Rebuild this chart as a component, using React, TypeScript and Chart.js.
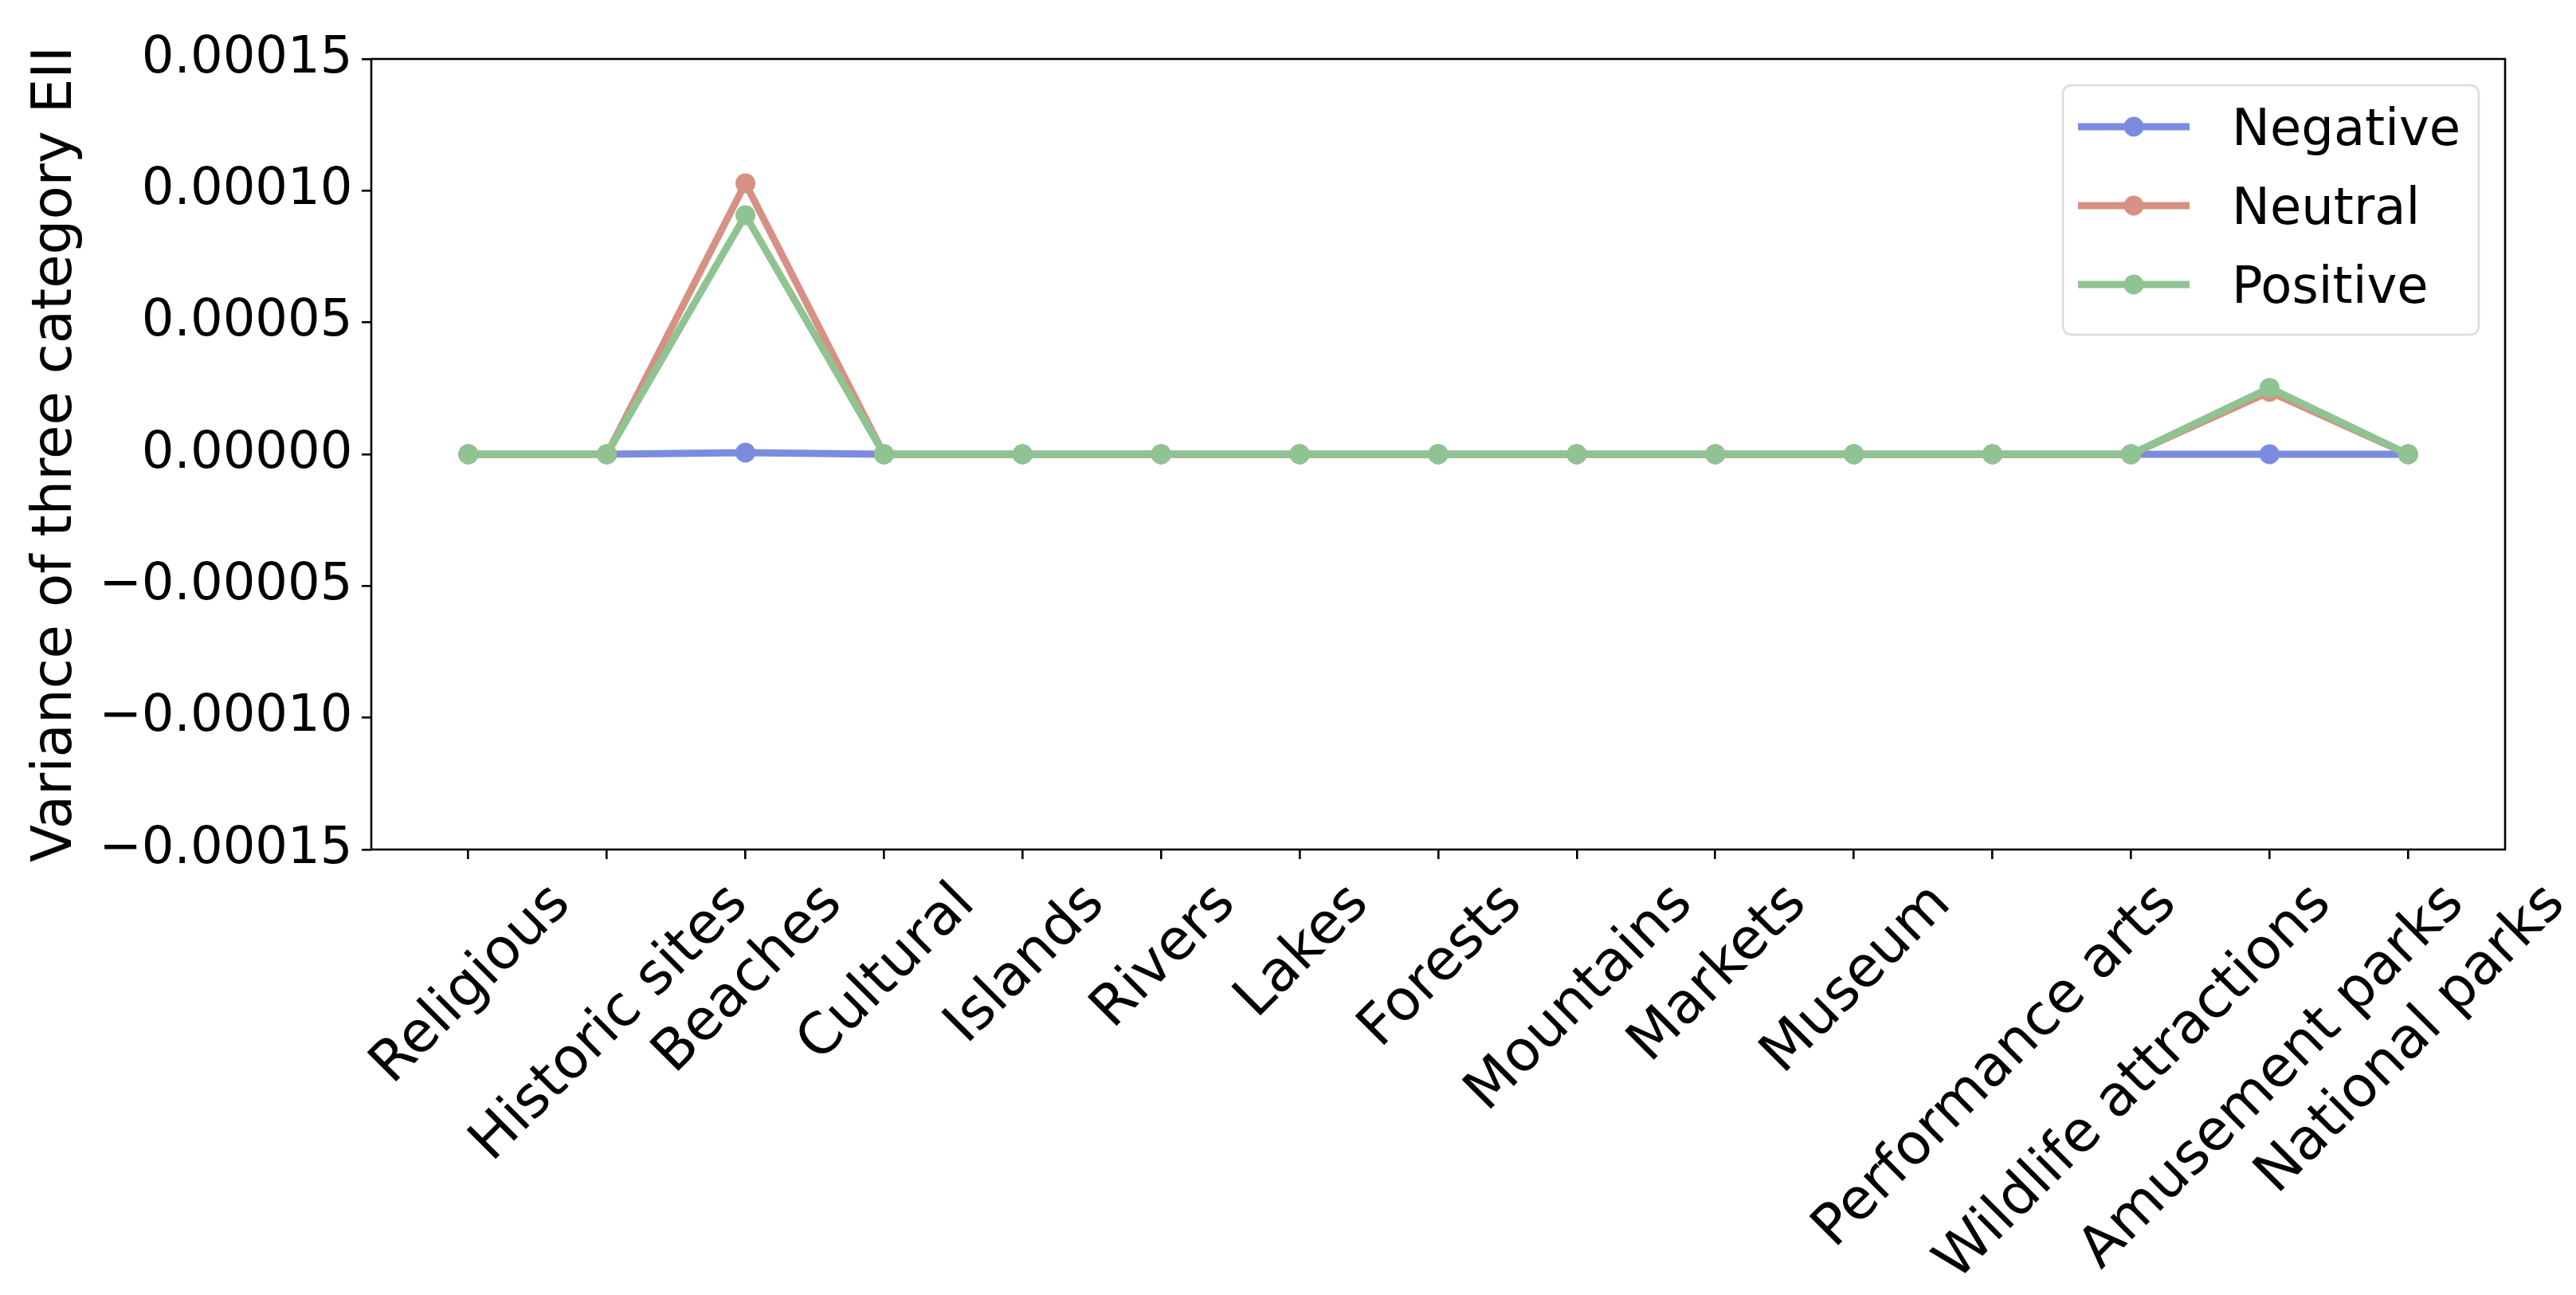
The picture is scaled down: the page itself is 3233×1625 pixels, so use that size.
import React, { useEffect, useRef } from "react";
import { Chart, registerables } from "chart.js";

Chart.register(...registerables);

const categories = [
  "Religious",
  "Historic sites",
  "Beaches",
  "Cultural",
  "Islands",
  "Rivers",
  "Lakes",
  "Forests",
  "Mountains",
  "Markets",
  "Museum",
  "Performance arts",
  "Wildlife attractions",
  "Amusement parks",
  "National parks",
];

const negativeValues = [0, 0, 0.0000006, 0, 0, 0, 0, 0, 0, 0, 0, 0, 0, 0, 0];
const neutralValues = [0, 0, 0.0001028, 0, 0, 0, 0, 0, 0, 0, 0, 0, 0, 0.0000237, 0];
const positiveValues = [0, 0, 0.0000907, 0, 0, 0, 0, 0, 0, 0, 0, 0, 0, 0.0000252, 0];

const seriesNames = ["Negative", "Neutral", "Positive"];
const seriesColors = ["rgb(123,140,224)", "rgb(214,145,132)", "rgb(143,196,146)"];

const yTicks = [-0.00015, -0.0001, -0.00005, 0, 0.00005, 0.0001, 0.00015];
const yTitle = "Variance of three category EII";

const W = 3233;
const H = 1625;
const FS = 64;
const XFS = 71;
const TFS = 69;
const FONT = '"DejaVu Sans", "Liberation Sans", sans-serif';
const TICK_LEN = 12;
const TICK_PAD = 11.5;
const AX_LW = 2.6;

const formatY = (v: number) => {
  const a = Math.abs(v).toFixed(5);
  return (v < -1e-12 ? "\u2212" : "") + a;
};

const framePlugin = {
  id: "frame",
  afterDatasetsDraw(chart: any) {
    const { ctx, chartArea: a } = chart;
    ctx.save();
    ctx.strokeStyle = "#000";
    ctx.lineWidth = AX_LW;
    ctx.strokeRect(a.left, a.top, a.right - a.left, a.bottom - a.top);
    ctx.restore();
  },
};

const xLabelPlugin = {
  id: "xLabels",
  afterDraw(chart: any) {
    const { ctx, chartArea: a } = chart;
    const xs = chart.scales.x;
    ctx.save();
    ctx.font = `${XFS}px ${FONT}`;
    ctx.fillStyle = "#000";
    const top = a.bottom + TICK_LEN + TICK_PAD;
    categories.forEach((c, i) => {
      const x = xs.getPixelForValue(i);
      const w = ctx.measureText(c).width;
      const h = XFS * 1.164;
      const cy = top + ((w + h) * Math.SQRT1_2) / 2;
      ctx.save();
      ctx.translate(x, cy);
      ctx.rotate(-Math.PI / 4);
      ctx.textAlign = "center";
      ctx.textBaseline = "alphabetic";
      ctx.fillText(c, 0, 0.346 * XFS);
      ctx.restore();
    });
    ctx.restore();
  },
};

const legendPlugin = {
  id: "customLegend",
  afterDraw(chart: any) {
    const { ctx, chartArea: a } = chart;
    const bw = 522;
    const bh = 313;
    const right = a.right - 33;
    const top = a.top + 33;
    const left = right - bw;
    const r = 12;
    ctx.save();
    ctx.beginPath();
    ctx.moveTo(left + r, top);
    ctx.lineTo(left + bw - r, top);
    ctx.quadraticCurveTo(left + bw, top, left + bw, top + r);
    ctx.lineTo(left + bw, top + bh - r);
    ctx.quadraticCurveTo(left + bw, top + bh, left + bw - r, top + bh);
    ctx.lineTo(left + r, top + bh);
    ctx.quadraticCurveTo(left, top + bh, left, top + bh - r);
    ctx.lineTo(left, top + r);
    ctx.quadraticCurveTo(left, top, left + r, top);
    ctx.closePath();
    ctx.fillStyle = "rgba(255,255,255,0.8)";
    ctx.fill();
    ctx.strokeStyle = "#dcdcdc";
    ctx.lineWidth = 2.5;
    ctx.stroke();

    ctx.font = `${FS}px ${FONT}`;
    ctx.textAlign = "left";
    ctx.textBaseline = "alphabetic";
    chart.data.datasets
      .slice()
      .sort((p: any, q: any) => p.legendIndex - q.legendIndex)
      .forEach((ds: any, i: number) => {
        const y = top + 52 + i * 99;
        const x0 = left + 19;
        const x1 = left + 159;
        ctx.strokeStyle = ds.borderColor;
        ctx.lineWidth = 9;
        ctx.lineCap = "butt";
        ctx.beginPath();
        ctx.moveTo(x0, y);
        ctx.lineTo(x1, y);
        ctx.stroke();
        ctx.fillStyle = ds.borderColor;
        ctx.beginPath();
        ctx.arc((x0 + x1) / 2, y, 12.5, 0, Math.PI * 2);
        ctx.fill();
        ctx.fillStyle = "#000";
        ctx.fillText(ds.label, left + 212, y + 0.3645 * FS);
      });
    ctx.restore();
  },
};

export default function App() {
  const ref = useRef<HTMLCanvasElement | null>(null);

  useEffect(() => {
    if (!ref.current) return;
    const valuesList = [negativeValues, neutralValues, positiveValues];
    const datasets = valuesList.map((vals, k) => ({
      label: seriesNames[k],
      legendIndex: k,
      order: valuesList.length - 1 - k,
      data: vals.map((v, i) => ({ x: i, y: v })),
      borderColor: seriesColors[k],
      backgroundColor: seriesColors[k],
      pointBackgroundColor: seriesColors[k],
      borderWidth: 9,
      pointRadius: 12.5,
      pointHoverRadius: 12.5,
      pointBorderWidth: 0,
      tension: 0,
      fill: false,
    }));

    const chart = new Chart(ref.current, {
      type: "line",
      data: { datasets } as any,
      options: {
        animation: false,
        responsive: false,
        devicePixelRatio: 1,
        layout: { padding: { left: 0, right: 89, top: 74, bottom: 0 } },
        plugins: {
          legend: { display: false },
          tooltip: { enabled: false },
        },
        scales: {
          x: {
            type: "linear",
            min: -0.7,
            max: categories.length - 1 + 0.7,
            afterBuildTicks: (s: any) => {
              s.ticks = categories.map((_, i) => ({ value: i }));
            },
            afterFit: (s: any) => {
              s.height = H - 1066;
            },
            ticks: { display: false },
            grid: {
              display: true,
              drawOnChartArea: false,
              drawTicks: true,
              tickLength: TICK_LEN,
              tickColor: "#000",
              tickWidth: AX_LW,
              color: "#000",
              lineWidth: AX_LW,
            },
            border: { display: false },
          },
          y: {
            type: "linear",
            min: yTicks[0],
            max: yTicks[yTicks.length - 1],
            afterBuildTicks: (s: any) => {
              s.ticks = yTicks.map((v) => ({ value: v }));
            },
            afterFit: (s: any) => {
              s.width = 466;
            },
            ticks: {
              color: "#000",
              padding: TICK_PAD,
              font: { family: FONT, size: FS },
              callback: (v: any) => formatY(Number(v)),
            },
            grid: {
              display: true,
              drawOnChartArea: false,
              drawTicks: true,
              tickLength: TICK_LEN,
              tickColor: "#000",
              tickWidth: AX_LW,
              color: "#000",
              lineWidth: AX_LW,
            },
            border: { display: false },
            title: {
              display: true,
              text: yTitle,
              color: "#000",
              font: { family: FONT, size: TFS, lineHeight: 1 },
              padding: { top: 37, bottom: 0 },
            },
          },
        },
      },
      plugins: [framePlugin, xLabelPlugin, legendPlugin],
    } as any);

    return () => chart.destroy();
  }, []);

  return (
    <div style={{ position: "absolute", left: 0, top: 0, width: W, height: H, background: "#fff" }}>
      <canvas ref={ref} width={W} height={H} style={{ display: "block", width: W, height: H }} />
    </div>
  );
}
